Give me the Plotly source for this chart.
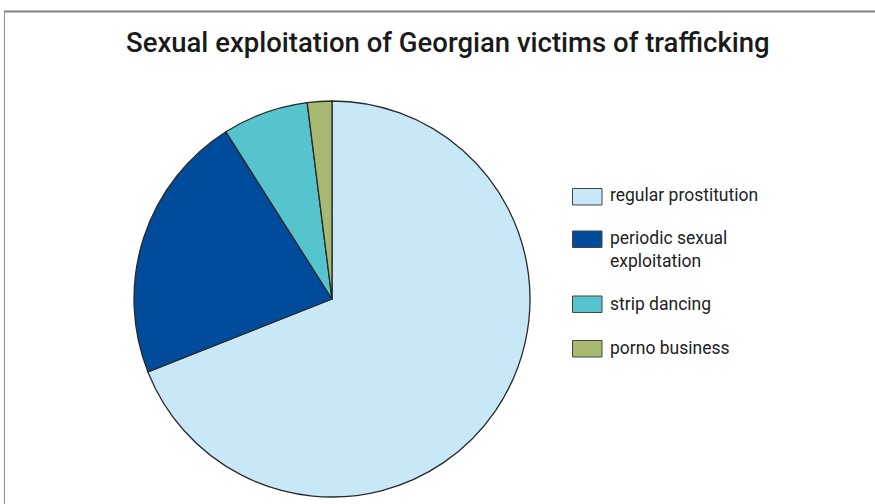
import plotly.graph_objects as go

# Forms of sexual exploitation (share of victims, %)
categories = ["regular prostitution", "periodic sexual exploitation", "strip dancing", "porno business"]
legend_labels = ["regular prostitution", "periodic sexual<br>exploitation", "strip dancing", "porno business"]
shares = [69, 22, 7, 2]
colors = ["#C8E8F8", "#004B9B", "#55C4CE", "#A8BA72"]

W, H = 875, 504
FONT = "Roboto, Liberation Sans, sans-serif"

fig = go.Figure(go.Pie(
    labels=categories,
    values=shares,
    marker=dict(colors=colors, line=dict(color="#2a2a2a", width=1.3)),
    sort=False,
    direction="clockwise",
    rotation=0,
    textinfo="none",
    hoverinfo="label+percent",
    showlegend=False,
    domain=dict(x=[134 / W, 530 / W], y=[7 / H, 403 / H]),
))

shapes = [
    # frame: top rule and left rule
    dict(type="line", xref="paper", yref="paper", x0=4 / W, x1=1, y0=1 - 11.5 / H, y1=1 - 11.5 / H,
         line=dict(color="#808080", width=2)),
    dict(type="line", xref="paper", yref="paper", x0=4.5 / W, x1=4.5 / W, y0=0, y1=1 - 11 / H,
         line=dict(color="#909090", width=1)),
]
annotations = [
    dict(text="Sexual exploitation of Georgian victims of trafficking", xref="paper", yref="paper",
         x=447.5 / W, y=1 - 42 / H, xanchor="center", yanchor="middle", showarrow=False,
         font=dict(family=FONT, size=27.5, weight=500, color="#1a1a1a")),
]

# legend: colour boxes with labels
box_tops = [188.5, 231, 296, 340.5]
text_centers = [195.5, 249, 303.5, 347.5]
for lab, col, bt, tc in zip(legend_labels, colors, box_tops, text_centers):
    shapes.append(dict(type="rect", xref="paper", yref="paper",
                       x0=572.5 / W, x1=602 / W, y0=1 - (bt + 16.5) / H, y1=1 - bt / H,
                       fillcolor=col, line=dict(color="#444444", width=1)))
    annotations.append(dict(text=lab, xref="paper", yref="paper", x=608 / W, y=1 - tc / H,
                            xanchor="left", yanchor="middle", align="left", showarrow=False,
                            font=dict(family=FONT, size=17.5, color="#222222")))

fig.update_layout(
    width=W, height=H,
    margin=dict(l=0, r=0, t=0, b=0),
    paper_bgcolor="white",
    plot_bgcolor="white",
    shapes=shapes,
    annotations=annotations,
)

fig.write_html("out.html")
